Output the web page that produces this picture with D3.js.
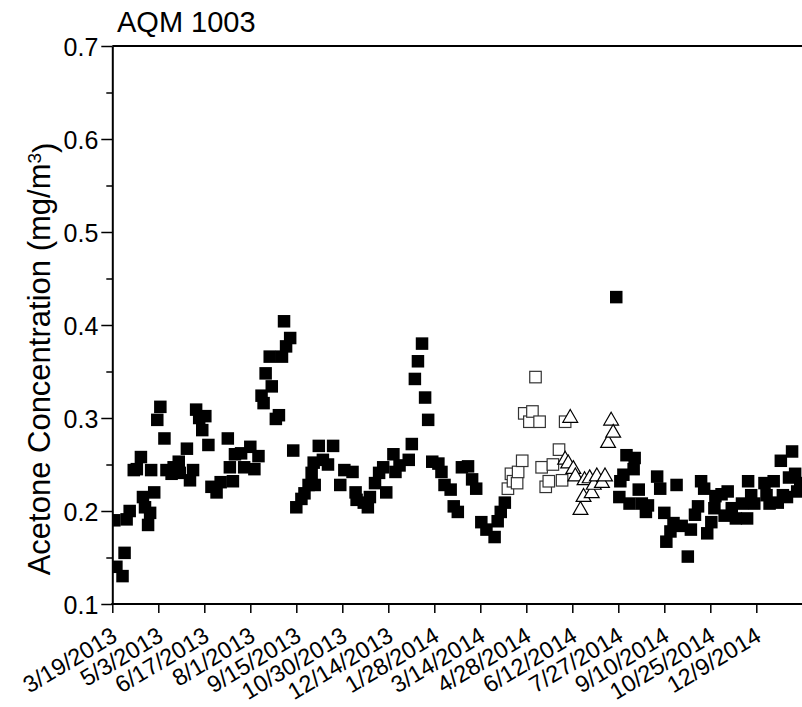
<!DOCTYPE html>
<html>
<head>
<meta charset="utf-8">
<script src="https://cdn.jsdelivr.net/npm/d3@7"></script>
<style>
  html, body { margin: 0; padding: 0; background: #fff; }
  svg { display: block; }
  text { font-family: Arial, "Liberation Sans", Helvetica, sans-serif; fill: #000; }
</style>
</head>
<body>
<div id="chart"></div>
<script>
// ---------------- data ----------------
const chartTitle = "AQM 1003";
const yLabel = "Acetone Concentration (mg/m";
const yLabelSup = "3";

const tickLabels = ["3/19/2013","5/3/2013","6/17/2013","8/1/2013","9/15/2013","10/30/2013",
  "12/14/2013","1/28/2014","3/14/2014","4/28/2014","6/12/2014","7/27/2014","9/10/2014",
  "10/25/2014","12/9/2014"];
const yMajorTicks = [0.1, 0.2, 0.3, 0.4, 0.5, 0.6, 0.7];
const yMinorTicks = [0.15, 0.25, 0.35, 0.45, 0.55, 0.65];

// filled squares
const filledDates = [
  "2013-03-21","2013-03-23","2013-03-29","2013-03-31","2013-04-02","2013-04-05","2013-04-09","2013-04-12",
  "2013-04-16","2013-04-18","2013-04-20","2013-04-23","2013-04-25","2013-04-26","2013-04-29","2013-05-02",
  "2013-05-05","2013-05-09","2013-05-11","2013-05-16","2013-05-18","2013-05-23","2013-05-24","2013-05-31",
  "2013-06-03","2013-06-06","2013-06-09","2013-06-12","2013-06-15","2013-06-18","2013-06-21","2013-06-24",
  "2013-06-29","2013-07-03","2013-07-10","2013-07-12","2013-07-15","2013-07-17","2013-07-23","2013-07-26",
  "2013-08-01","2013-08-05","2013-08-09","2013-08-12","2013-08-14","2013-08-16","2013-08-20","2013-08-22",
  "2013-08-26","2013-08-29","2013-09-01","2013-09-03","2013-09-05","2013-09-09","2013-09-12","2013-09-15",
  "2013-09-20","2013-09-23","2013-09-27","2013-09-30","2013-10-02","2013-10-03","2013-10-07","2013-10-11",
  "2013-10-16","2013-10-21","2013-10-28","2013-11-01","2013-11-09","2013-11-12","2013-11-13","2013-11-20",
  "2013-11-24","2013-11-26","2013-12-01","2013-12-05","2013-12-09","2013-12-12","2013-12-19","2013-12-21",
  "2013-12-25","2014-01-03","2014-01-06","2014-01-09","2014-01-12","2014-01-16","2014-01-19","2014-01-22",
  "2014-01-26","2014-02-01","2014-02-04","2014-02-07","2014-02-13","2014-02-16","2014-02-20","2014-02-24",
  "2014-03-02","2014-03-06","2014-03-10","2014-03-15","2014-03-20","2014-03-28","2014-03-31","2014-04-03",
  "2014-04-07",
  "2014-07-25","2014-07-28","2014-07-29","2014-08-01","2014-08-04","2014-08-07","2014-08-11","2014-08-12",
  "2014-08-16","2014-08-19","2014-08-23","2014-08-25","2014-09-03","2014-09-06","2014-09-10","2014-09-12",
  "2014-09-16","2014-09-19","2014-09-22","2014-09-27","2014-10-03","2014-10-06","2014-10-10","2014-10-13",
  "2014-10-16","2014-10-19","2014-10-22","2014-10-26","2014-10-29","2014-10-30","2014-11-05","2014-11-08",
  "2014-11-11","2014-11-15","2014-11-19","2014-11-25","2014-11-30","2014-12-01","2014-12-04","2014-12-07",
  "2014-12-17","2014-12-19","2014-12-22","2014-12-26","2014-12-30","2015-01-02","2015-01-04","2015-01-08",
  "2015-01-10","2015-01-13","2015-01-16","2015-01-18","2015-01-21"];
const filledValues = [
  0.190,0.140,0.130,0.155,0.191,0.200,0.244,0.245,
  0.258,0.215,0.204,0.185,0.198,0.244,0.220,0.298,
  0.312,0.278,0.244,0.240,0.247,0.253,0.241,0.267,
  0.233,0.244,0.309,0.300,0.287,0.302,0.271,0.226,
  0.220,0.231,0.278,0.247,0.232,0.261,0.262,0.247,
  0.269,0.245,0.259,0.324,0.316,0.348,0.366,0.334,
  0.299,0.303,0.366,0.404,0.377,0.386,0.265,0.204,
  0.213,0.219,0.228,0.241,0.252,0.228,0.270,0.255,
  0.250,0.270,0.228,0.244,0.242,0.220,0.212,0.209,
  0.204,0.215,0.230,0.241,0.247,0.220,0.261,0.242,
  0.249,0.255,0.272,0.342,0.361,0.380,0.322,0.298,
  0.253,0.251,0.242,0.228,0.223,0.205,0.199,0.247,
  0.248,0.234,0.224,0.188,0.180,0.172,0.189,0.199,
  0.209,
  0.430,0.215,0.232,0.239,0.260,0.208,0.245,0.257,
  0.223,0.208,0.199,0.206,0.237,0.224,0.198,0.167,
  0.178,0.187,0.228,0.184,0.151,0.180,0.196,0.205,
  0.232,0.224,0.176,0.188,0.203,0.216,0.218,0.195,
  0.221,0.203,0.192,0.208,0.192,0.232,0.217,0.208,
  0.230,0.217,0.208,0.232,0.209,0.254,0.217,0.215,
  0.236,0.264,0.240,0.221,0.230];

// open squares
const openDates = ["2014-04-10","2014-04-13","2014-04-15","2014-04-19","2014-04-20","2014-04-24",
  "2014-04-26","2014-05-01","2014-05-04","2014-05-07","2014-05-11","2014-05-13","2014-05-17",
  "2014-05-20","2014-05-24","2014-05-30","2014-06-02","2014-06-05"];
const openValues = [0.224,0.240,0.232,0.230,0.242,0.254,0.305,0.296,0.307,0.344,0.296,0.247,0.226,
  0.232,0.250,0.266,0.233,0.296];

// open triangles
const triDates = ["2014-06-05","2014-06-08","2014-06-10","2014-06-13","2014-06-15","2014-06-20",
  "2014-06-23","2014-06-24","2014-06-29","2014-07-01","2014-07-03","2014-07-06","2014-07-11",
  "2014-07-14","2014-07-17","2014-07-20","2014-07-22"];
const triValues = [0.255,0.251,0.300,0.245,0.237,0.201,0.215,0.233,0.235,0.219,0.228,0.237,0.230,
  0.237,0.273,0.297,0.284];

// ---------------- chart ----------------
const W = 802, H = 707;
const parseISO = d3.utcParse("%Y-%m-%d");
const parseTick = d3.utcParse("%m/%d/%Y");
const tickDates = tickLabels.map(parseTick);

const plotLeft = 112.3, plotTop = 46, plotBottom = 604, plotRight = W;

const x = d3.scaleUtc()
  .domain([tickDates[0], tickDates[tickDates.length - 1]])
  .range([plotLeft, 756.3]);
const y = d3.scaleLinear().domain([0.1, 0.7]).range([plotBottom, plotTop]);

const svg = d3.select("#chart").append("svg").attr("width", W).attr("height", H);

svg.append("defs").append("clipPath").attr("id", "clip")
  .append("rect").attr("x", plotLeft).attr("y", plotTop - 10)
  .attr("width", plotRight - plotLeft).attr("height", plotBottom - plotTop + 10);

const fs = 25;
const fsX = 23.5;

// title
svg.append("text").attr("x", 117).attr("y", 32)
  .style("font-size", "29px").text(chartTitle);

// y axis
const yAxisG = svg.append("g").attr("transform", `translate(${plotLeft},0)`)
  .call(d3.axisLeft(y).tickValues(yMajorTicks).tickSize(11).tickSizeOuter(0)
        .tickFormat(d3.format(".1f")));
yAxisG.select(".domain").attr("stroke-width", 2);
yAxisG.selectAll(".tick line").attr("stroke-width", 1.5);
yAxisG.selectAll(".tick text").attr("x", -14).attr("dy", "0.36em")
  .style("font-size", fs + "px").style("font-family", "Arial, 'Liberation Sans', sans-serif");
const yMinorG = svg.append("g").attr("transform", `translate(${plotLeft},0)`)
  .call(d3.axisLeft(y).tickValues(yMinorTicks).tickSize(6).tickSizeOuter(0).tickFormat(""));
yMinorG.select(".domain").remove();
yMinorG.selectAll(".tick line").attr("stroke-width", 1.5);

// x axis
const xAxisG = svg.append("g").attr("transform", `translate(0,${plotBottom})`)
  .call(d3.axisBottom(x).tickValues(tickDates).tickSize(9).tickSizeOuter(0)
        .tickFormat((d, i) => tickLabels[i]));
xAxisG.select(".domain").remove();
xAxisG.selectAll(".tick line").attr("stroke-width", 1.5);
xAxisG.selectAll(".tick text")
  .attr("x", 0).attr("y", 0).attr("dy", 0)
  .attr("text-anchor", "end")
  .attr("transform", "translate(6,36) rotate(-31)")
  .style("font-size", fsX + "px").style("font-family", "Arial, 'Liberation Sans', sans-serif");

// bottom & top frame lines
svg.append("line").attr("x1", plotLeft - 1).attr("x2", plotRight)
  .attr("y1", plotBottom).attr("y2", plotBottom).attr("stroke", "#000").attr("stroke-width", 2);
svg.append("line").attr("x1", plotLeft).attr("x2", plotRight)
  .attr("y1", y(0.7)).attr("y2", y(0.7)).attr("stroke", "#000").attr("stroke-width", 2);

// y label
svg.append("text")
  .attr("transform", `translate(50,${(plotTop + plotBottom) / 2 + 34}) rotate(-90)`)
  .attr("text-anchor", "middle")
  .style("font-size", "31px")
  .call(t => {
    t.append("tspan").text(yLabel);
    t.append("tspan").attr("dy", "-0.45em").style("font-size", "19px").text(yLabelSup);
    t.append("tspan").attr("dy", "0.45em").text(")");
  });

// points
const plot = svg.append("g").attr("clip-path", "url(#clip)");
const sq = 12.5;

const filled = filledDates.map((d, i) => ({ date: parseISO(d), v: filledValues[i] }));
const opens = openDates.map((d, i) => ({ date: parseISO(d), v: openValues[i] }));
const tris = triDates.map((d, i) => ({ date: parseISO(d), v: triValues[i] }));

plot.selectAll("rect.filled").data(filled).enter().append("rect")
  .attr("class", "filled")
  .attr("x", d => x(d.date) - sq / 2).attr("y", d => y(d.v) - sq / 2)
  .attr("width", sq).attr("height", sq).attr("fill", "#000");

const osq = 11.5;
plot.selectAll("rect.open").data(opens).enter().append("rect")
  .attr("class", "open")
  .attr("x", d => x(d.date) - osq / 2).attr("y", d => y(d.v) - osq / 2)
  .attr("width", osq).attr("height", osq)
  .attr("fill", "#fff").attr("stroke", "#333").attr("stroke-width", 1.2);

const triSym = d3.symbol().type(d3.symbolTriangle).size(95);
plot.selectAll("path.tri").data(tris).enter().append("path")
  .attr("class", "tri")
  .attr("transform", d => `translate(${x(d.date)},${y(d.v)})`)
  .attr("d", triSym)
  .attr("fill", "#fff").attr("stroke", "#000").attr("stroke-width", 1.2);
</script>
</body>
</html>
